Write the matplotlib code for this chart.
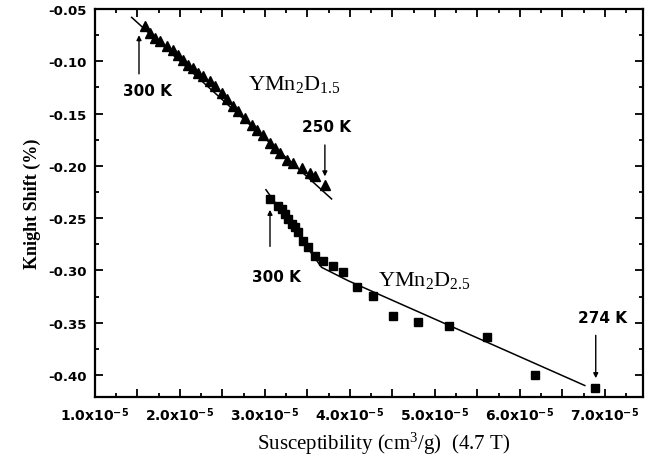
import matplotlib
matplotlib.use("Agg")
import matplotlib.pyplot as plt
from matplotlib.ticker import MultipleLocator

plt.rcParams["mathtext.fontset"] = "custom"
plt.rcParams["mathtext.rm"] = "Liberation Serif"
plt.rcParams["mathtext.it"] = "Liberation Serif:italic"
plt.rcParams["mathtext.bf"] = "DejaVu Sans:bold"

# --- data (susceptibility in units of 1e-5 cm^3/g, Knight shift in %) ---
tri_x = [1.588, 1.647, 1.706, 1.765, 1.844, 1.921, 1.980, 2.039, 2.098, 2.156,
         2.215, 2.274, 2.353, 2.412, 2.491, 2.549, 2.627, 2.686, 2.765, 2.844,
         2.902, 2.980, 3.059, 3.118, 3.176, 3.255, 3.333, 3.432, 3.529, 3.588,
         3.706]
tri_y = [-0.0660, -0.0725, -0.0775, -0.0808, -0.0855, -0.0889, -0.0937, -0.0984,
         -0.1032, -0.1064, -0.1111, -0.1143, -0.1191, -0.1239, -0.1303, -0.1365,
         -0.1430, -0.1478, -0.1542, -0.1606, -0.1653, -0.1701, -0.1781, -0.1829,
         -0.1876, -0.1940, -0.1972, -0.2020, -0.2067, -0.2099, -0.2179]

sq_x = [3.059, 3.156, 3.196, 3.235, 3.274, 3.314, 3.353, 3.392, 3.451, 3.509,
        3.588, 3.686, 3.804, 3.921, 4.079, 4.271, 4.506, 4.800, 5.165, 5.612,
        6.176, 6.882]
sq_y = [-0.2316, -0.2380, -0.2412, -0.2460, -0.2508, -0.2555, -0.2587, -0.2635,
        -0.2715, -0.2778, -0.2858, -0.2906, -0.2954, -0.3017, -0.3155, -0.3244,
        -0.3435, -0.3492, -0.3528, -0.3636, -0.3999, -0.4124]

fit15_x = [1.432, 3.785]
fit15_y = [-0.058, -0.2316]
fit25_x = [3.012, 3.667, 3.98, 6.765]
fit25_y = [-0.2228, -0.297, -0.3098, -0.410]

xtick_vals = [1, 2, 3, 4, 5, 6, 7]
xtick_labels = [r"%d.0x10$^{\mathbf{-5}}$" % v for v in xtick_vals]
ytick_vals = [-0.05, -0.10, -0.15, -0.20, -0.25, -0.30, -0.35, -0.40]
ytick_labels = ["-0.05", "-0.10", "-0.15", "-0.20", "-0.25", "-0.30", "-0.35", "-0.40"]

fig = plt.figure(figsize=(6.47, 4.64), dpi=100)
ax = fig.add_axes([0.1468, 0.1422, 0.8470, 0.8362])

ax.plot(fit15_x, fit15_y, color="black", lw=1.1)
ax.plot(fit25_x, fit25_y, color="black", lw=1.1)
ax.plot(tri_x, tri_y, linestyle="none", marker="^", color="black", markersize=7.5)
ax.plot(sq_x, sq_y, linestyle="none", marker="s", color="black", markersize=6)

ax.set_xlim(1.0, 7.45)
ax.set_ylim(-0.421, -0.05)

sans = "DejaVu Sans"
serif = "Liberation Serif"

# major ticks every 0.5 (labelled at integers), minor every 0.25
maj_pos, maj_lab = [], []
for v, lab in zip(xtick_vals, xtick_labels):
    maj_pos.append(v)
    maj_lab.append(lab)
    if v + 0.5 < 7.45:
        maj_pos.append(v + 0.5)
        maj_lab.append("")
ax.set_xticks(maj_pos, maj_lab)
ax.xaxis.set_minor_locator(MultipleLocator(0.25))
ax.set_yticks(ytick_vals, ytick_labels)
ax.yaxis.set_minor_locator(MultipleLocator(0.025))
for lab in ax.get_xticklabels():
    lab.set_fontfamily(sans)
    lab.set_fontweight("bold")
    lab.set_fontsize(10)
for lab in ax.get_yticklabels():
    lab.set_fontfamily(sans)
    lab.set_fontweight("bold")
    lab.set_fontsize(9.5)

ax.tick_params(which="both", direction="in", top=True, right=True, width=1.3)
ax.tick_params(which="major", length=6, pad=6)
ax.tick_params(which="minor", length=3)
for s in ax.spines.values():
    s.set_linewidth(1.6)

ax.set_xlabel(r"Susceptibility (cm$^\mathrm{3}$/g)  (4.7 T)", fontfamily=serif,
              fontsize=15, labelpad=4)
ax.xaxis.set_label_coords(0.526, -0.085)
ax.set_ylabel("Knight Shift (%)", fontfamily=serif, fontsize=13, fontweight="bold",
              labelpad=5)

# annotations
def karrow(x, y0, y1):
    ax.annotate("", xy=(x, y1), xytext=(x, y0),
                arrowprops=dict(arrowstyle="-|>", color="black", lw=1.0,
                                mutation_scale=7, shrinkA=0, shrinkB=0))

kfont = dict(fontfamily=sans, fontweight="bold", fontsize=11, ha="center", va="center")
karrow(1.518, -0.112, -0.075)
ax.text(1.62, -0.128, "300 K", **kfont)
karrow(3.706, -0.180, -0.210)
ax.text(3.73, -0.162, "250 K", **kfont)
karrow(3.06, -0.277, -0.242)
ax.text(3.13, -0.306, "300 K", **kfont)
karrow(6.894, -0.362, -0.403)
ax.text(6.97, -0.345, "274 K", **kfont)

ax.text(2.80, -0.121, r"YMn$_\mathrm{2}$D$_\mathrm{1.5}$", fontfamily=serif, fontsize=16,
        ha="left", va="center")
ax.text(4.33, -0.309, r"YMn$_\mathrm{2}$D$_\mathrm{2.5}$", fontfamily=serif, fontsize=16,
        ha="left", va="center")

fig.savefig("out.png", dpi=100)
